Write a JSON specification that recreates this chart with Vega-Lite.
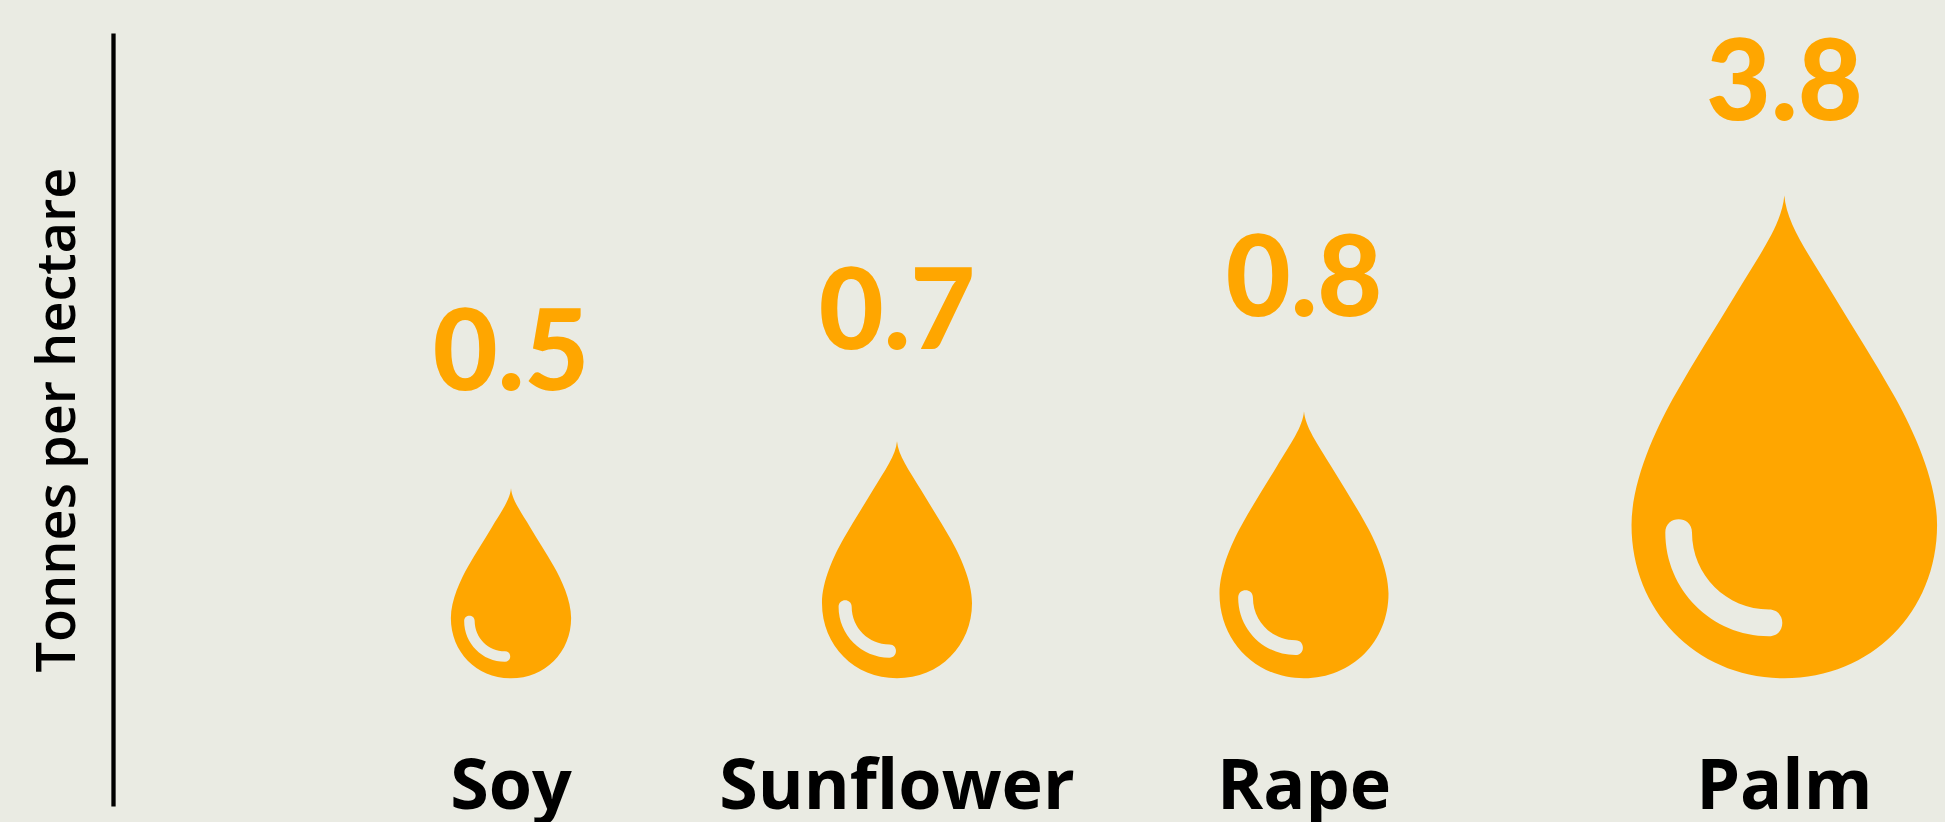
{"$schema":"https://vega.github.io/schema/vega-lite/v6.json","autosize":{"type":"none"},"padding":{"left":113,"top":33,"right":0,"bottom":16},"width":1832,"height":773,"background":"#EAEBE3","config":{"view":{"stroke":null}},"data":{"values":[{"crop":"Soy","tonnes":0.5},{"crop":"Sunflower","tonnes":0.7},{"crop":"Rape","tonnes":0.8},{"crop":"Palm","tonnes":3.8}]},"encoding":{"x":{"field":"tonnes","type":"quantitative","axis":null,"scale":{"type":"linear","domain":[0,0.5,0.7,0.8,3.8,4],"range":[0,398,784,1191,1671.3,1832],"nice":false,"zero":false}}},"layer":[{"mark":{"type":"point","filled":true,"opacity":1,"color":"#FFA600","shape":"M0 -2 C.01 -1.88 .1 -1.76 .203 -1.588 C.285 -1.452 .37 -1.32 .449 -1.181 C.53 -1.04 .633 -.82 .633 -.635 C.633 -.275 .36 0 0 0 C-.36 0 -.633 -.275 -.633 -.635 C-.633 -.82 -.53 -1.04 -.449 -1.181 C-.37 -1.32 -.285 -1.452 -.203 -1.588 C-.1 -1.76 -.01 -1.88 0 -2 Z"},"encoding":{"y":{"datum":0,"type":"quantitative","title":"Tonnes per hectare","scale":{"type":"linear","domain":[-1,0,0.5,0.7,0.8,3.8,4.5],"range":[773,645.3,357,316,283,87,0],"nice":false,"zero":false},"axis":{"ticks":false,"labels":false,"grid":false,"domain":true,"domainColor":"#000000","domainWidth":4.3,"titleFont":"Open Sans","titleFontSize":54,"titleFontWeight":600,"titleColor":"#000000","titlePadding":28}},"size":{"field":"tonnes","type":"quantitative","legend":null,"scale":{"type":"linear","domain":[0.5,0.7,0.8,3.8],"range":[36100,56169,71289,233000],"zero":false,"nice":false}}}},{"mark":{"type":"point","filled":true,"opacity":1,"color":"#EAEBE3","shape":"M-.493 -.6036 C-.493 -.3663 -.3008 -.174 -.0635 -.174 C.0101 -.174 .0101 -.2846 -.0635 -.2846 C-.2397 -.2846 -.3825 -.4274 -.3825 -.6036 C-.3825 -.677 -.493 -.677 -.493 -.6036 Z"},"encoding":{"y":{"datum":0,"type":"quantitative","title":"Tonnes per hectare"},"size":{"field":"tonnes","type":"quantitative","legend":null,"scale":{"type":"linear","domain":[0.5,0.7,0.8,3.8],"range":[36100,56169,71289,233000],"zero":false,"nice":false}}}},{"mark":{"type":"text","font":"Lato","fontWeight":900,"fontSize":112,"color":"#FFA600","align":"center","baseline":"alphabetic"},"encoding":{"y":{"field":"tonnes","type":"quantitative","title":"Tonnes per hectare"},"text":{"field":"tonnes","type":"quantitative","format":".1f"}}},{"mark":{"type":"text","font":"Open Sans","fontWeight":"bold","fontSize":70,"color":"#000000","align":"center","baseline":"alphabetic","dy":3},"encoding":{"y":{"datum":-1,"type":"quantitative","title":"Tonnes per hectare"},"text":{"field":"crop","type":"nominal"}}}]}
